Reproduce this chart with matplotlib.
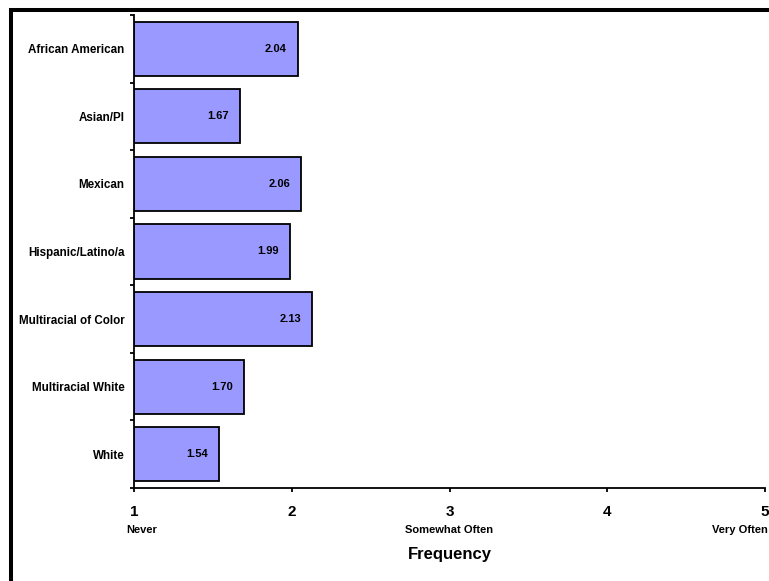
import matplotlib.pyplot as plt
from matplotlib.patches import Rectangle
import numpy as np

plt.rcParams['font.family'] = ['Liberation Sans', 'DejaVu Sans']
plt.rcParams['font.weight'] = 'bold'

groups = ['African American', 'Asian/PI', 'Mexican', 'Hispanic/Latino/a',
          'Multiracial of Color', 'Multiracial White', 'White']
means = [2.04, 1.67, 2.06, 1.99, 2.13, 1.70, 1.54]
scale_ticks = [1, 2, 3, 4, 5]
scale_words = {1: 'Never', 3: 'Somewhat Often', 5: 'Very Often'}

fig = plt.figure(figsize=(7.69, 5.81), dpi=100)
ax = fig.add_axes([0.1743, 0.1601, 0.8205, 0.8141])

# bars start from the scale minimum (1 = Never)
y = np.arange(len(groups))
base = scale_ticks[0]
widths = [m - base for m in means]
ax.barh(y, widths, left=base, height=0.8, color='#9999FF',
        edgecolor='black', linewidth=1.3)

for yi, m in zip(y, means):
    ax.annotate(f'{m:.2f}', xy=(m, yi), xytext=(-8, 0), textcoords='offset points',
                ha='right', va='center', fontsize=8, fontweight='bold')

ax.set_xlim(1, 5)
ax.set_ylim(len(groups) - 0.5, -0.5)
ax.set_xticks(scale_ticks)
ax.set_xticklabels([str(t) for t in scale_ticks], fontsize=11, fontweight='bold')
ax.set_yticks(y)
ax.set_yticklabels(groups, fontsize=8.4, fontweight='bold')
ax.set_yticks(np.arange(len(groups) + 1) - 0.5, minor=True)
ax.tick_params(axis='y', which='major', length=0, pad=7)
ax.tick_params(axis='y', which='minor', length=3, width=1.3, direction='out')
ax.tick_params(axis='x', length=3, width=1.3, direction='out', pad=9.5)

for side in ['top', 'right']:
    ax.spines[side].set_visible(False)
for side in ['left', 'bottom']:
    ax.spines[side].set_linewidth(1.3)

# word anchors under the scale numbers
offsets = {1: 8, 3: 0, 5: -25}
for val, word in scale_words.items():
    ax.annotate(word, xy=(val, 0), xycoords=('data', 'axes fraction'),
                xytext=(offsets[val] * 0.72, -30), textcoords='offset points',
                ha='center', va='center', fontsize=8, fontweight='bold')

ax.set_xlabel('Frequency', fontsize=12, fontweight='bold', labelpad=20)

# outer frame around the chart
fig.patches.append(Rectangle((11.3 / 769, -0.1), 1.2, 1 - 10.3 / 581 + 0.1,
                             transform=fig.transFigure, fill=False,
                             edgecolor='black', linewidth=2.9, zorder=10))

fig.savefig('out.png', dpi=100)
